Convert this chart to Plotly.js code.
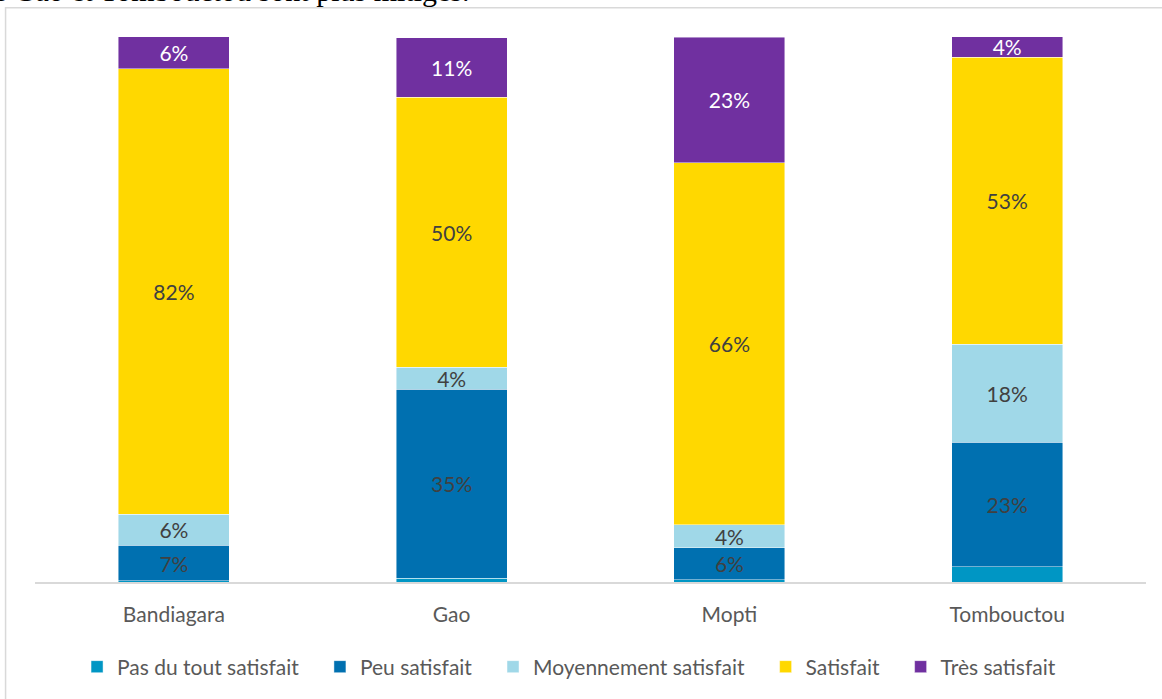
<!DOCTYPE html>
<html>
<head>
<meta charset="utf-8">
<script src="https://cdn.plot.ly/plotly-3.0.1.min.js"></script>
<style>html,body{margin:0;padding:0;background:#fff;}#chart{width:1162px;height:699px;}</style>
</head>
<body>
<div id="chart"></div>
<script>
const categories = ["Bandiagara", "Gao", "Mopti", "Tombouctou"];
const seriesNames = ["Pas du tout satisfait", "Peu satisfait", "Moyennement satisfait", "Satisfait", "Très satisfait"];
const pasDuTout = [0.2, 0.7, 0.4, 2.8];
const peu = [6.5, 34.7, 5.9, 22.8];
const moyennement = [5.7, 4.0, 4.2, 18.0];
const satisfait = [81.8, 49.5, 66.4, 52.7];
const tresSatisfait = [5.9, 11.0, 23.1, 3.9];
const colors = ["#0096C4", "#0070B0", "#A0D8E8", "#FFD800", "#7030A0"];
const textColors = ["#404040", "#404040", "#404040", "#404040", "#FFFFFF"];
const showLabels = [false, true, true, true, true];
const headerText = "e Gao et Tombouctou sont plus mitigés.";

const FONT = "Lato, 'Open Sans', sans-serif";
const PAD = "\u00A0\u00A0\u00A0";
const values = [pasDuTout, peu, moyennement, satisfait, tresSatisfait];
const traces = values.map((v, i) => ({
  type: "bar",
  name: i < values.length - 1 ? seriesNames[i] + PAD : seriesNames[i],
  x: categories,
  y: v,
  marker: {color: colors[i], line: {color: "rgba(255,255,255,0.6)", width: 0.75}},
  text: showLabels[i] ? v.map(d => Math.round(d) + "%") : v.map(() => ""),
  texttemplate: showLabels[i] ? "%{text}" : "",
  textposition: showLabels[i] ? "inside" : "none",
  insidetextanchor: "middle",
  textangle: 0,
  constraintext: "none",
  insidetextfont: {family: FONT, size: 21, color: textColors[i]},
  hoverinfo: "none"
}));

const layout = {
  width: 1162, height: 699,
  barmode: "stack",
  bargap: 0.6,
  margin: {l: 34.5, r: 15.5, t: 37, b: 117, autoexpand: false},
  paper_bgcolor: "#fff",
  plot_bgcolor: "#fff",
  font: {family: FONT, size: 21, color: "#595959"},
  xaxis: {
    showline: true, linecolor: "#D9D9D9", linewidth: 1.5,
    ticks: "", showgrid: false, zeroline: false,
    tickfont: {family: FONT, size: 21, color: "#595959"},
    ticklabelstandoff: 13,
    automargin: false,
    fixedrange: true
  },
  yaxis: {
    range: [0, 100], visible: false, showgrid: false, zeroline: false, fixedrange: true
  },
  showlegend: true,
  legend: {
    orientation: "h", xref: "paper", x: 0.4807, xanchor: "center",
    yref: "container", y: 0.0458, yanchor: "middle",
    font: {family: FONT, size: 21, color: "#595959"},
    itemwidth: 30, tracegroupgap: 0,
    traceorder: "normal"
  },
  shapes: [{
    type: "rect", xref: "paper", yref: "paper",
    x0: -0.0265, x1: 1.03, y0: -0.4, y1: 1.0535,
    line: {color: "#D9D9D9", width: 1.5}, fillcolor: "rgba(0,0,0,0)", layer: "below"
  }],
  annotations: [{
    xref: "paper", yref: "paper",
    x: -0.040, y: 1.0514, xanchor: "left", yanchor: "bottom",
    text: headerText, showarrow: false,
    font: {family: "'Liberation Serif', 'Times New Roman', serif", size: 30, color: "#000"}
  }]
};

Plotly.newPlot("chart", traces, layout, {displayModeBar: false, staticPlot: true});
</script>
</body>
</html>
